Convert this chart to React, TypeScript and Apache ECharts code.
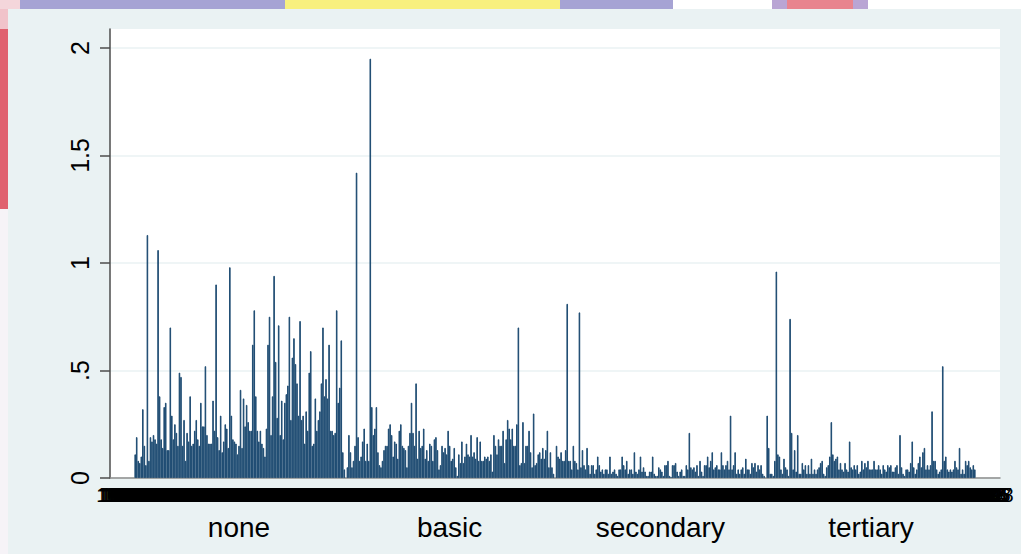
import React, { useEffect, useRef } from 'react';
import * as echarts from 'echarts';

const FONT = '"Liberation Sans", Arial, Helvetica, sans-serif';

const groupNames = ['none', 'basic', 'secondary', 'tertiary'];

const noneValues = [
  0.11, 0.19, 0.08, 0.07, 0.1, 0.32, 0.15, 0.06, 1.13, 0.08,
  0.19, 0.17, 0.2, 0.18, 0.16, 1.06, 0.38, 0.18, 0.14, 0.33,
  0.35, 0.13, 0.13, 0.7, 0.29, 0.18, 0.25, 0.21, 0.15, 0.49,
  0.47, 0.15, 0.27, 0.08, 0.21, 0.17, 0.38, 0.15, 0.16, 0.22,
  0.27, 0.18, 0.15, 0.35, 0.24, 0.24, 0.52, 0.2, 0.16, 0.16,
  0.16, 0.36, 0.22, 0.9, 0.19, 0.13, 0.29, 0.12, 0.17, 0.25,
  0.23, 0.14, 0.98, 0.29, 0.18, 0.17, 0.16, 0.11, 0.15, 0.41,
  0.14, 0.37, 0.24, 0.34, 0.26, 0.22, 0.22, 0.62, 0.78, 0.38,
  0.22, 0.17, 0.22, 0.16, 0.14, 0.1, 0.23, 0.62, 0.75, 0.2,
  0.38, 0.94, 0.54, 0.28, 0.71, 0.2, 0.36, 0.18, 0.35, 0.39,
  0.43, 0.75, 0.27, 0.56, 0.65, 0.53, 0.44, 0.29, 0.73, 0.27,
  0.29, 0.16, 0.31, 0.22, 0.49, 0.59, 0.15, 0.16, 0.37, 0.22,
  0.27, 0.31, 0.44, 0.7, 0.38, 0.46, 0.37, 0.62, 0.22, 0.22,
  0.2, 0.21, 0.78, 0.35, 0.42, 0.64, 0.12, 0.04,
];

const basicValues = [
  0.05, 0.2, 0.12, 0.05, 0.08, 0.15, 1.42, 0.19, 0.08, 0.1,
  0.17, 0.23, 0.08, 0.16, 0.08, 1.95, 0.33, 0.2, 0.23, 0.33,
  0.12, 0.06, 0.05, 0.08, 0.13, 0.15, 0.15, 0.23, 0.25, 0.2,
  0.1, 0.17, 0.16, 0.09, 0.22, 0.25, 0.15, 0.14, 0.13, 0.05,
  0.15, 0.21, 0.35, 0.21, 0.15, 0.44, 0.09, 0.22, 0.14, 0.15,
  0.23, 0.09, 0.13, 0.08, 0.16, 0.15, 0.08, 0.18, 0.19, 0.13,
  0.04, 0.06, 0.15, 0.12, 0.14, 0.11, 0.22, 0.15, 0.08, 0.09,
  0.14, 0.05, 0.01, 0.11, 0.07, 0.17, 0.07, 0.1, 0.16, 0.11,
  0.1, 0.2, 0.1, 0.12, 0.09, 0.19, 0.08, 0.17, 0.08, 0.08,
  0.1, 0.09, 0.1, 0.08, 0.11, 0.03, 0.2, 0.15, 0.11, 0.18,
  0.15, 0.15, 0.22, 0.07, 0.18, 0.27, 0.23, 0.18, 0.23, 0.15,
  0.15, 0.25, 0.7, 0.06, 0.07, 0.26, 0.07, 0.15, 0.15, 0.22,
  0.12, 0.05, 0.3, 0.06, 0.07, 0.11, 0.12, 0.09, 0.14, 0.09,
  0.13, 0.22, 0.05, 0.12, 0.05, 0.02,
];

const secondaryValues = [
  0.15, 0.1, 0.09, 0.12, 0.08, 0.08, 0.13, 0.81, 0.08, 0.08,
  0.04, 0.15, 0.08, 0.07, 0.04, 0.77, 0.05, 0.13, 0.06, 0.04,
  0.14, 0.06, 0.02, 0.06, 0.06, 0.02, 0.04, 0.1, 0.06, 0.03,
  0.04, 0.02, 0.04, 0.04, 0.02, 0.1, 0.02, 0.03, 0.04, 0.02,
  0.01, 0.04, 0.04, 0.1, 0.06, 0.04, 0.08, 0.02, 0.04, 0.04,
  0.02, 0.12, 0.03, 0.02, 0.04, 0.1, 0.03, 0.05, 0.03, 0.01,
  0.01, 0.03, 0.03, 0.1, 0.02, 0.01, 0.01, 0.05, 0.04, 0.03,
  0.01, 0.06, 0.06, 0.08, 0.01, 0.005, 0.06, 0.06, 0.07, 0.03,
  0.01, 0.03, 0.04, 0.01, 0.01, 0.06, 0.04, 0.21, 0.05, 0.04,
  0.05, 0.03, 0.06, 0.01, 0.08, 0.03, 0.01, 0.06, 0.06, 0.1,
  0.05, 0.08, 0.12, 0.04, 0.05, 0.06, 0.04, 0.04, 0.12, 0.06,
  0.04, 0.06, 0.08, 0.04, 0.29, 0.04, 0.06, 0.12, 0.02, 0.04,
  0.02, 0.04, 0.05, 0.02, 0.09, 0.04, 0.04, 0.02, 0.07, 0.05,
  0.07, 0.03, 0.06, 0.04, 0.06, 0.02, 0.01,
];

const tertiaryValues = [
  0.29, 0.14, 0.02, 0.02, 0.01, 0.08, 0.96, 0.11, 0.1, 0.04, 0.02,
  0.09, 0.05, 0.04, 0.01, 0.74, 0.21, 0.04, 0.13, 0.03, 0.2,
  0.02, 0.02, 0.07, 0.04, 0.06, 0.02, 0.06, 0.02, 0.09,
  0.02, 0.04, 0.02, 0.04, 0.05, 0.07, 0.08, 0.02, 0.01,
  0.05, 0.06, 0.1, 0.26, 0.11, 0.08, 0.09, 0.1, 0.04,
  0.07, 0.04, 0.03, 0.07, 0.04, 0.03, 0.17, 0.05, 0.04, 0.06,
  0.04, 0.06, 0.02, 0.03, 0.08, 0.04, 0.07, 0.05, 0.08, 0.04,
  0.04, 0.04, 0.08, 0.04, 0.04, 0.06, 0.04, 0.02, 0.06,
  0.04, 0.03, 0.06, 0.05, 0.06, 0.03, 0.03, 0.05, 0.06,
  0.02, 0.2, 0.05, 0.02, 0.01, 0.04, 0.04, 0.03, 0.07, 0.17,
  0.05, 0.02, 0.04, 0.07, 0.1, 0.05, 0.12, 0.14, 0.04, 0.06,
  0.04, 0.06, 0.31, 0.08, 0.08, 0.04, 0.02, 0.03, 0.04,
  0.52, 0.08, 0.1, 0.04, 0.03, 0.04, 0.03, 0.04, 0.08, 0.05,
  0.04, 0.14, 0.02, 0.04, 0.02, 0.08, 0.06, 0.08, 0.05, 0.04, 0.06, 0.04,
];

const yTicks = [0, 0.5, 1, 1.5, 2];
const yMax = 2.088;
const firstObsId = 1000001;

export default function App() {
  const ref = useRef<HTMLDivElement>(null);

  useEffect(() => {
    if (!ref.current) return;
    const chart = echarts.init(ref.current, null, { renderer: 'svg' });

    const groups = [noneValues, basicValues, secondaryValues, tertiaryValues];
    const edgePad = 16;
    const values: (number | null)[] = [];
    const cats: string[] = [];
    const obsLabels: string[] = [];
    const groupLabels: string[] = [];
    let obs = 0;
    const pushBlank = (n: number) => {
      for (let i = 0; i < n; i++) {
        cats.push('c' + cats.length);
        values.push(null);
        obsLabels.push('');
        groupLabels.push('');
      }
    };
    pushBlank(edgePad);
    groups.forEach((g, gi) => {
      if (gi > 0) pushBlank(1);
      const start = cats.length;
      g.forEach((v) => {
        cats.push('c' + cats.length);
        values.push(v);
        obsLabels.push(String(firstObsId + obs));
        groupLabels.push('');
        obs++;
      });
      groupLabels[start + Math.floor((g.length - 1) / 2)] = groupNames[gi];
    });
    pushBlank(edgePad);

    const strip = (x: number, y: number, w: number, h: number, fill: string) => ({
      type: 'rect',
      shape: { x, y, width: w, height: h },
      style: { fill },
      silent: true,
    });

    chart.setOption({
      animation: false,
      backgroundColor: '#eaf2f3',
      textStyle: { fontFamily: FONT },
      graphic: [
        strip(0, 0, 20, 9, '#f4d6db'),
        strip(20, 0, 265, 9, '#a6a3d4'),
        strip(285, 0, 275, 9, '#f8f07e'),
        strip(560, 0, 113, 9, '#a6a3d4'),
        strip(673, 0, 99, 9, '#ffffff'),
        strip(772, 0, 96, 9, '#b9a5d4'),
        strip(787, 0, 66, 9, '#e8848e'),
        strip(868, 0, 153, 9, '#ffffff'),
        strip(0, 9, 8, 20, '#f1c3ca'),
        strip(0, 29, 8, 180, '#e0616f'),
        strip(0, 209, 8, 345, '#f6f3f7'),
      ],
      grid: {
        left: 110,
        right: 21,
        top: 29,
        bottom: 76,
        show: true,
        backgroundColor: '#ffffff',
        borderWidth: 0,
      },
      xAxis: [
        {
          type: 'category',
          data: cats,
          position: 'bottom',
          axisLine: { show: true, onZero: false, lineStyle: { color: '#8c8c8c', width: 1.5 } },
          axisTick: { show: false },
          splitLine: { show: false },
          axisLabel: {
            interval: 0,
            formatter: (_v: string, i: number) => obsLabels[i],
            color: '#000',
            fontSize: 20,
            fontFamily: FONT,
            margin: 7,
          },
        },
        {
          type: 'category',
          data: cats,
          position: 'bottom',
          offset: 28,
          axisLine: { show: false },
          axisTick: { show: false },
          splitLine: { show: false },
          axisLabel: {
            interval: 0,
            formatter: (_v: string, i: number) => groupLabels[i],
            color: '#000',
            fontSize: 28,
            fontFamily: FONT,
            margin: 7,
          },
        },
      ],
      yAxis: {
        type: 'value',
        min: 0,
        max: yMax,
        interval: 0.5,
        axisLine: { show: true, lineStyle: { color: '#4d4d4d', width: 1.5 } },
        axisTick: {
          show: true,
          length: 10,
          customValues: yTicks,
          lineStyle: { color: '#4d4d4d', width: 1.5 },
        },
        axisLabel: {
          customValues: yTicks,
          rotate: 90,
          margin: 18,
          fontSize: 25,
          color: '#000',
          fontFamily: FONT,
          formatter: (v: number) => (v === 0 ? '0' : v < 1 ? String(v).replace(/^0/, '') : String(v)),
        },
        splitLine: { show: true, lineStyle: { color: '#eaf2f3', width: 1.5 } },
      },
      series: [
        {
          type: 'bar',
          xAxisIndex: 0,
          data: values,
          barCategoryGap: '0%',
          barWidth: '100%',
          itemStyle: { color: '#1a476f', borderColor: '#1a476f', borderWidth: 0.9 },
        },
      ],
    });

    return () => chart.dispose();
  }, []);

  return (
    <div
      ref={ref}
      style={{ position: 'fixed', left: 0, top: 0, width: 1021, height: 554 }}
    />
  );
}
